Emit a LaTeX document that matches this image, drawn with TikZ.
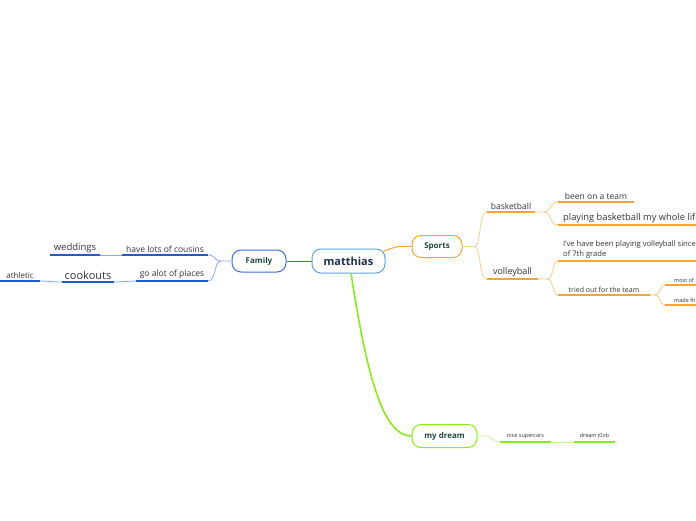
\documentclass[tikz,border=0pt]{standalone}
\usepackage{fontspec}
\setmainfont{Open Sans}
\definecolor{cblue}{HTML}{3B6FE3}
\definecolor{cblued}{HTML}{1E5AD8}
\definecolor{cmain}{HTML}{5BA3DD}
\definecolor{corange}{HTML}{F7A52E}
\definecolor{corangel}{HTML}{FBCB8A}
\definecolor{cgreen}{HTML}{88EE11}
\definecolor{cgreenl}{HTML}{C2F78A}
\definecolor{tnavy}{HTML}{1B2F4F}
\definecolor{tgreen}{HTML}{1F4B3B}
\definecolor{tgray}{HTML}{333333}
\begin{document}
\begin{tikzpicture}[x=1pt,y=-1pt,
  topic/.style={draw, line width=1pt, rounded corners=9pt, fill=white, font=\bfseries, text=tgreen, inner sep=0pt},
  sub/.style={text=tgray, inner sep=0pt, inner ysep=2.5pt, anchor=south, align=center},
  ulo/.style={draw=corange, line width=1.4pt},
  ulb/.style={draw=cblued, line width=1.4pt},
  ulg/.style={draw=cgreen, line width=1.4pt},
  lo/.style={draw=corangel, line width=0.8pt},
  lb/.style={draw=cblue!60, line width=0.8pt},
  lg/.style={draw=cgreenl, line width=0.8pt},
]
\useasboundingbox (0,0) rectangle (696,520);
% central
\node[topic, draw=cmain, text=tnavy, minimum width=73pt, minimum height=24pt, font=\bfseries\fontsize{11}{13}\selectfont] (m) at (348.5,261) {matthias};
\node[topic, draw=cblue, minimum width=54pt, minimum height=22pt, font=\bfseries\fontsize{8}{10}\selectfont] (fam) at (259,261) {Family};
\node[topic, draw=corange, minimum width=50pt, minimum height=22pt, font=\bfseries\fontsize{8}{10}\selectfont] (sp) at (437,246.5) {Sports};
\node[topic, draw=cgreen, minimum width=65pt, minimum height=23pt, font=\bfseries\fontsize{8}{10}\selectfont] (dr) at (444.5,436) {my dream};

% main connectors
\draw[draw=cblue, line width=1pt] (m.west) -- (fam.east);
\draw[draw=corange, line width=1pt] (m.north east) ++(-3,3) coordinate (ms) (ms) .. controls (398,246) .. (sp.west);
\coordinate (md) at (351,273);
\draw[draw=cgreen, line width=1.6pt] (md) .. controls (368,385) and (385,436) .. (dr.west);

% Sports branch
\node[sub, minimum width=48pt, font=\fontsize{8.5}{10}\selectfont] (bask) at (511,212) {basketball};
\draw[ulo] (bask.south west) -- (bask.south east);
\node[sub, minimum width=51pt, font=\fontsize{9}{10}\selectfont] (volley) at (512.5,279) {volleyball};
\draw[ulo] (volley.south west) -- (volley.south east);
\draw[lo] (sp.east) -- (474,246.5) .. controls (482,246.5) and (478,212) .. (bask.south west);
\draw[lo] (474,246.5) .. controls (482,246.5) and (478,279) .. (volley.south west);

\node[sub, minimum width=76pt, font=\fontsize{8.5}{10}\selectfont] (team) at (596,202) {been on a team};
\draw[ulo] (team.south west) -- (team.south east);
\node[sub, anchor=south west, inner xsep=5pt, font=\fontsize{9.3}{10}\selectfont] (whole) at (558,225) {playing basketball my whole life};
\coordinate (wholeE) at (696,225);
\draw[ulo] (whole.south west) -- (wholeE);
\draw[lo] (bask.south east) -- (544,212) .. controls (551,212) and (550,202) .. (team.south west);
\draw[lo] (544,212) .. controls (551,212) and (550,225) .. (whole.south west);

\node[sub, anchor=south west, inner xsep=5pt, align=left, font=\fontsize{7.6}{10}\selectfont] (since) at (558,261) {I've have been playing volleyball since\\of 7th grade};
\coordinate (sinceE) at (696,261);
\draw[ulo] (since.south west) -- (sinceE);
\node[sub, minimum width=92pt, font=\fontsize{7}{9}\selectfont] (tried) at (604,295) {tried out for the team};
\draw[ulo] (tried.south west) -- (tried.south east);
\draw[lo] (volley.south east) -- (547,279) .. controls (554,279) and (552,261) .. (since.south west);
\draw[lo] (547,279) .. controls (554,279) and (552,295) .. (tried.south west);

\node[sub, anchor=south west, inner xsep=9pt, font=\fontsize{5.5}{7}\selectfont] (most) at (665,285) {most of};
\coordinate (mostE) at (696,285);
\draw[ulo] (most.south west) -- (mostE);
\node[sub, anchor=south west, inner xsep=9pt, font=\fontsize{5.5}{7}\selectfont] (made) at (665,305) {made th};
\coordinate (madeE) at (696,305);
\draw[ulo] (made.south west) -- (madeE);
\draw[lo] (tried.south east) -- (655,295) .. controls (661,295) and (659,285) .. (most.south west);
\draw[lo] (655,295) .. controls (661,295) and (659,305) .. (made.south west);

% Family branch
\node[sub, minimum width=86pt, font=\fontsize{8.5}{10}\selectfont] (cous) at (165,255) {have lots of cousins};
\draw[ulb] (cous.south west) -- (cous.south east);
\node[sub, minimum width=72pt, font=\fontsize{8.5}{10}\selectfont] (places) at (172,281) {go alot of places};
\draw[ulb] (places.south west) -- (places.south east);
\draw[lb] (fam.west) -- (221,261) .. controls (214,261) and (216,255) .. (cous.south east);
\draw[lb] (221,261) .. controls (214,261) and (216,281) .. (places.south east);

\node[sub, minimum width=50pt, font=\fontsize{9.5}{11}\selectfont] (wed) at (75,255) {weddings};
\draw[ulb] (wed.south west) -- (wed.south east);
\draw[lb] (cous.south west) -- (wed.south east);
\node[sub, minimum width=52pt, font=\fontsize{11}{13}\selectfont] (cook) at (88,282) {cookouts};
\draw[ulb] (cook.south west) -- (cook.south east);
\draw[lb] (places.south west) .. controls (125,281) and (125,282) .. (cook.south east);
\node[sub, minimum width=40pt, font=\fontsize{8}{10}\selectfont] (ath) at (20,281) {athletic};
\draw[ulb] (ath.south west) -- (ath.south east);
\draw[lb] (cook.south west) .. controls (50,282) and (50,281) .. (ath.south east);

% my dream branch
\node[sub, minimum width=51pt, font=\fontsize{5.5}{7}\selectfont] (car) at (525.5,442) {nice supercars};
\draw[ulg] (car.south west) -- (car.south east);
\node[sub, minimum width=41pt, font=\fontsize{5.5}{7}\selectfont] (job) at (594.5,442) {dream j0ob};
\draw[ulg] (job.south west) -- (job.south east);
\draw[lg] (dr.east) -- (484,436) .. controls (492,436) and (492,442) .. (car.south west);
\draw[lg] (car.south east) -- (job.south west);
\end{tikzpicture}
\end{document}
